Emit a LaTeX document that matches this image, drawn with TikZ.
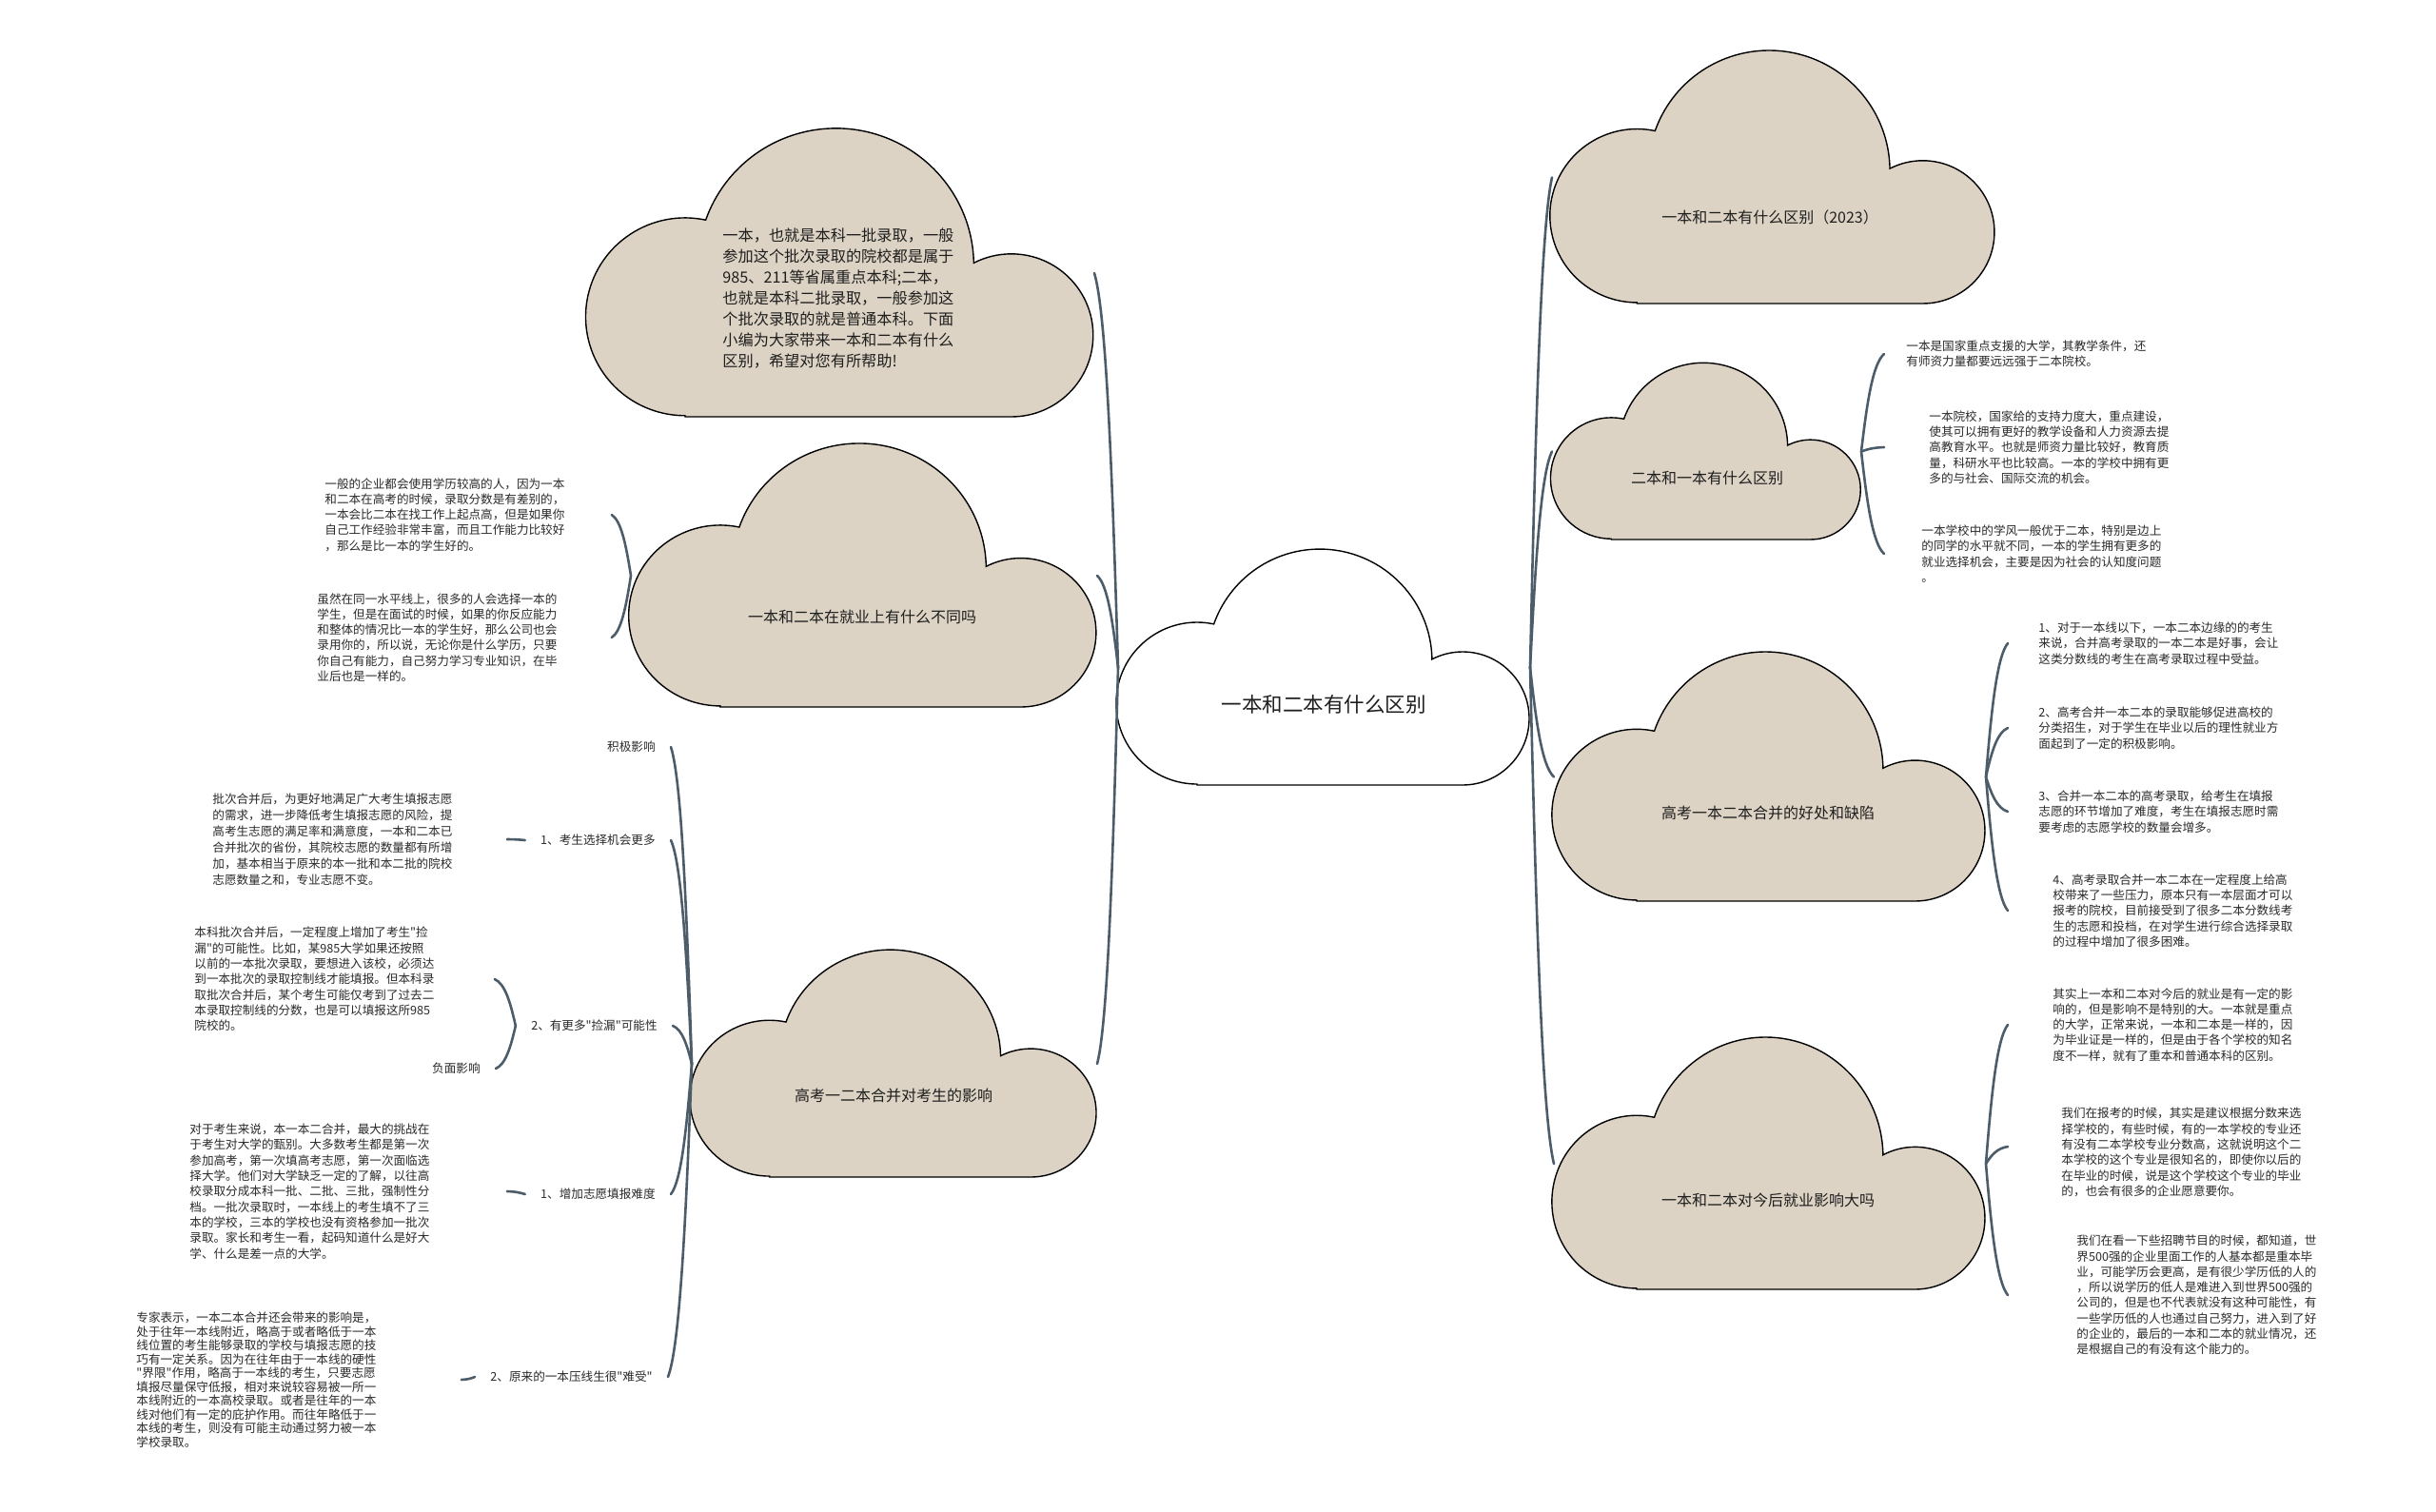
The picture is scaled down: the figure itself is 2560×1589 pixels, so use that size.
\documentclass[tikz,border=0pt]{standalone}
\usepackage{fontspec}
\newfontfamily\cjk{Noto Sans CJK SC}
\usetikzlibrary{calc}
\definecolor{cloudfill}{HTML}{DCD3C4}
\definecolor{linec}{HTML}{4C5D69}
\definecolor{txt}{HTML}{2A2A2A}
\definecolor{ttl}{HTML}{1E1E1E}

\tikzset{
  cloudline/.style={draw=black, line width=0.7pt},
  cbox/.style={inner sep=0pt, outer sep=0pt},
  conn/.style={draw=linec, line width=1.3pt, line cap=round},
  ctitle/.style={font=\cjk\fontsize{8}{10}\selectfont, text=ttl, inner sep=0pt},
  rtitle/.style={font=\cjk\fontsize{10.75}{13}\selectfont, text=ttl, inner sep=0pt},
  para/.style={font=\cjk\fontsize{8.1}{11}\selectfont, text=ttl, align=left, inner sep=0pt, anchor=west},
  blk/.style={font=\cjk\fontsize{6.3}{8.15}\selectfont, text=txt, align=left, inner sep=0pt, anchor=west},
  lbl/.style={font=\cjk\fontsize{6.3}{8}\selectfont, text=txt, inner xsep=8pt, inner ysep=2pt, anchor=east},
}

% name, x0, y0, w, h, fill
\newcommand\mmcloud[6]{%
  \filldraw[cloudline, fill=#6, shift={(#2,#3)}, xscale={#4/433}, yscale={#5/247}]
    (83,247) -- (362,247) arc[start angle=90, end angle=-117.3, radius=70]
    arc[start angle=-1.1, end angle=-160.6, radius=118]
    arc[start angle=-78, end angle=-270, radius=85] -- cycle;
  \node[cbox, minimum width={#4*0.5pt}, minimum height={#5*0.5pt}] (#1) at ({#2+#4/2},{#3+#5/2}) {};
}

\newcommand\mmconn[2]{\draw[conn] let \p1=(#1), \p2=(#2) in (\p1) .. controls ({\x1+0.25*(\x2-\x1)},{\y1+0.5*(\y2-\y1)}) and ({\x2-0.5*(\x2-\x1)},{\y2-0.1*(\y2-\y1)}) .. (\p2);}

\begin{document}
\begin{tikzpicture}[x=0.5pt, y=-0.5pt]
\fill[white] (0,0) rectangle (2560,1589);
\useasboundingbox (0,0) rectangle (2560,1589);

% clouds
\mmcloud{root}{1175}{578}{433}{247}{white}
\mmcloud{tl}{618}{136}{532}{302}{cloudfill}
\mmcloud{jy}{663}{467}{490}{276}{cloudfill}
\mmcloud{hb}{727}{999}{426}{238}{cloudfill}
\mmcloud{tr}{1631}{54}{466}{265}{cloudfill}
\mmcloud{eb}{1631}{382}{325}{185}{cloudfill}
\mmcloud{hc}{1633}{686}{454}{261}{cloudfill}
\mmcloud{jx}{1633}{1091}{454}{264}{cloudfill}

% cloud texts
\node[rtitle] (root-t) at (1391,740) {一本和二本有什么区别};
\node[para] (tl-t) at (759,314) {一本，也就是本科一批录取，一般\\参加这个批次录取的院校都是属于\\985、211等省属重点本科;二本，\\也就是本科二批录取，一般参加这\\个批次录取的就是普通本科。下面\\小编为大家带来一本和二本有什么\\区别，希望对您有所帮助!};
\node[ctitle] (tr-t) at (1860,228) {一本和二本有什么区别（2023）};
\node[ctitle] (eb-t) at (1794,502) {二本和一本有什么区别};
\node[ctitle] (hc-t) at (1858,854) {高考一本二本合并的好处和缺陷};
\node[ctitle] (jx-t) at (1858,1261) {一本和二本对今后就业影响大吗};
\node[ctitle] (jy-t) at (906,648) {一本和二本在就业上有什么不同吗};
\node[ctitle] (hb-t) at (939,1151) {高考一二本合并对考生的影响};

% right side blocks
\node[blk] (E1) at (2003,372) {一本是国家重点支援的大学，其教学条件，还\\有师资力量都要远远强于二本院校。};
\node[blk] (E2) at (2027,470) {一本院校，国家给的支持力度大，重点建设，\\使其可以拥有更好的教学设备和人力资源去提\\高教育水平。也就是师资力量比较好，教育质\\量，科研水平也比较高。一本的学校中拥有更\\多的与社会、国际交流的机会。};
\node[blk] (E3) at (2019,582) {一本学校中的学风一般优于二本，特别是边上\\的同学的水平就不同，一本的学生拥有更多的\\就业选择机会，主要是因为社会的认知度问题\\。};

\node[blk] (H1) at (2142,676) {1、对于一本线以下，一本二本边缘的的考生\\来说，合并高考录取的一本二本是好事，会让\\这类分数线的考生在高考录取过程中受益。};
\node[blk] (H2) at (2142,765) {2、高考合并一本二本的录取能够促进高校的\\分类招生，对于学生在毕业以后的理性就业方\\面起到了一定的积极影响。};
\node[blk] (H3) at (2142,853) {3、合并一本二本的高考录取，给考生在填报\\志愿的环节增加了难度，考生在填报志愿时需\\要考虑的志愿学校的数量会增多。};
\node[blk] (H4) at (2157,957) {4、高考录取合并一本二本在一定程度上给高\\校带来了一些压力，原本只有一本层面才可以\\报考的院校，目前接受到了很多二本分数线考\\生的志愿和投档，在对学生进行综合选择录取\\的过程中增加了很多困难。};

\node[blk] (U1) at (2157,1077) {其实上一本和二本对今后的就业是有一定的影\\响的，但是影响不是特别的大。一本就是重点\\的大学，正常来说，一本和二本是一样的，因\\为毕业证是一样的，但是由于各个学校的知名\\度不一样，就有了重本和普通本科的区别。};
\node[blk] (U2) at (2166,1211) {我们在报考的时候，其实是建议根据分数来选\\择学校的，有些时候，有的一本学校的专业还\\有没有二本学校专业分数高，这就说明这个二\\本学校的这个专业是很知名的，即使你以后的\\在毕业的时候，说是这个学校这个专业的毕业\\的，也会有很多的企业愿意要你。};
\node[blk] (U3) at (2182,1361) {我们在看一下些招聘节目的时候，都知道，世\\界500强的企业里面工作的人基本都是重本毕\\业，可能学历会更高，是有很少学历低的人的\\，所以说学历的低人是难进入到世界500强的\\公司的，但是也不代表就没有这种可能性，有\\一些学历低的人也通过自己努力，进入到了好\\的企业的，最后的一本和二本的就业情况，还\\是根据自己的有没有这个能力的。};

% left side blocks
\node[blk, text width=150.5pt] (A) at (341,541) {一般的企业都会使用学历较高的人，因为一本\\和二本在高考的时候，录取分数是有差别的，\\一本会比二本在找工作上起点高，但是如果你\\自己工作经验非常丰富，而且工作能力比较好\\，那么是比一本的学生好的。};
\node[blk, text width=154.5pt] (B) at (333,670) {虽然在同一水平线上，很多的人会选择一本的\\学生，但是在面试的时候，如果的你反应能力\\和整体的情况比一本的学生好，那么公司也会\\录用你的，所以说，无论你是什么学历，只要\\你自己有能力，自己努力学习专业知识，在毕\\业后也是一样的。};

\node[blk, text width=154.5pt, font=\cjk\fontsize{6.3}{8.5}\selectfont] (P1) at (223,882) {批次合并后，为更好地满足广大考生填报志愿\\的需求，进一步降低考生填报志愿的风险，提\\高考生志愿的满足率和满意度，一本和二本已\\合并批次的省份，其院校志愿的数量都有所增\\加，基本相当于原来的本一批和本二批的院校\\志愿数量之和，专业志愿不变。};
\node[blk, text width=157.5pt] (P2) at (204,1029) {本科批次合并后，一定程度上增加了考生"捡\\漏"的可能性。比如，某985大学如果还按照\\以前的一本批次录取，要想进入该校，必须达\\到一本批次的录取控制线才能填报。但本科录\\取批次合并后，某个考生可能仅考到了过去二\\本录取控制线的分数，也是可以填报这所985\\院校的。};
\node[blk, text width=166.5pt] (P3) at (199,1252) {对于考生来说，本一本二合并，最大的挑战在\\于考生对大学的甄别。大多数考生都是第一次\\参加高考，第一次填高考志愿，第一次面临选\\择大学。他们对大学缺乏一定的了解，以往高\\校录取分成本科一批、二批、三批，强制性分\\档。一批次录取时，一本线上的考生填不了三\\本的学校，三本的学校也没有资格参加一批次\\录取。家长和考生一看，起码知道什么是好大\\学、什么是差一点的大学。};
\node[blk, text width=170.5pt, font=\cjk\fontsize{6.3}{7.25}\selectfont] (P4) at (143,1450) {专家表示，一本二本合并还会带来的影响是，\\处于往年一本线附近，略高于或者略低于一本\\线位置的考生能够录取的学校与填报志愿的技\\巧有一定关系。因为在往年由于一本线的硬性\\"界限"作用，略高于一本线的考生，只要志愿\\填报尽量保守低报，相对来说较容易被一所一\\本线附近的一本高校录取。或者是往年的一本\\线对他们有一定的庇护作用。而往年略低于一\\本线的考生，则没有可能主动通过努力被一本\\学校录取。};

% labels
\node[lbl] (L1) at (705,785) {积极影响};
\node[lbl] (L2) at (705,883) {1、考生选择机会更多};
\node[lbl] (L3) at (707,1078) {2、有更多"捡漏"可能性};
\node[lbl] (L4) at (705,1255) {1、增加志愿填报难度};
\node[lbl] (L5) at (702,1447) {2、原来的一本压线生很"难受"};
\node[lbl] (L6) at (521,1123) {负面影响};

% connectors from root
\mmconn{root.west}{tl.east}
\mmconn{root.west}{jy.east}
\mmconn{root.west}{hb.east}
\mmconn{root.east}{tr.west}
\mmconn{root.east}{eb.west}
\mmconn{root.east}{hc.west}
\mmconn{root.east}{jx.west}

% eb subtree
\mmconn{eb.east}{[xshift=-11.5pt]E1.west}
\mmconn{eb.east}{[xshift=-23.5pt]E2.west}
\mmconn{eb.east}{[xshift=-19.5pt]E3.west}

% hc subtree
\mmconn{hc.east}{[xshift=-16pt]H1.west}
\mmconn{hc.east}{[xshift=-16pt]H2.west}
\mmconn{hc.east}{[xshift=-16pt]H3.west}
\mmconn{hc.east}{[xshift=-23.5pt]H4.west}

% jx subtree
\mmconn{jx.east}{[xshift=-23.5pt]U1.west}
\mmconn{jx.east}{[xshift=-28pt,yshift=3pt]U2.west}
\mmconn{jx.east}{[xshift=-36pt]U3.west}

% jy subtree
\mmconn{jy.west}{A.east}
\mmconn{jy.west}{B.east}

% hb subtree
\mmconn{hb.west}{L1.east}
\mmconn{hb.west}{L2.east}
\mmconn{hb.west}{L3.east}
\mmconn{hb.west}{L4.east}
\mmconn{hb.west}{L5.east}
\mmconn{L2.west}{P1.east}
\mmconn{L3.west}{P2.east}
\mmconn{L3.west}{L6.east}
\mmconn{L4.west}{P3.east}
\mmconn{L5.west}{P4.east}
\end{tikzpicture}
\end{document}
